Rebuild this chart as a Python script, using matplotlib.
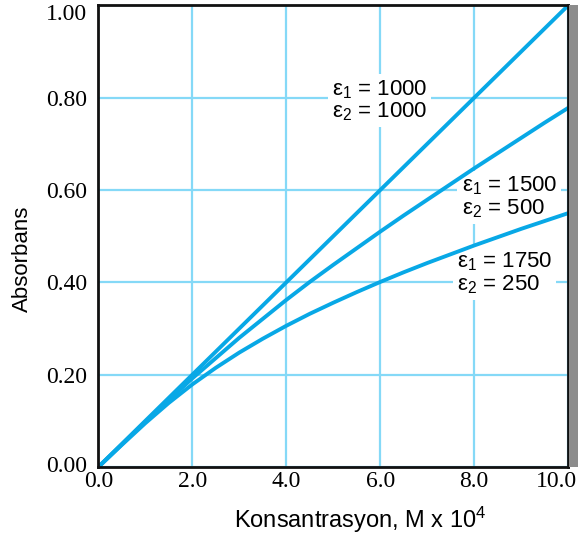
import numpy as np
import matplotlib
matplotlib.use("Agg")
import matplotlib.pyplot as plt
import matplotlib.transforms as mtransforms
from matplotlib.patches import Rectangle

# concentration (M x 10^4) and absorbance
conc = [0, 0.5, 1, 1.5, 2, 2.5, 3, 3.5, 4, 4.5, 5, 5.5, 6, 6.5, 7, 7.5, 8, 8.5, 9, 9.5, 10]
abs_1000_1000 = [0, 0.05, 0.10, 0.15, 0.20, 0.25, 0.30, 0.35, 0.40, 0.45, 0.50,
                 0.55, 0.60, 0.65, 0.70, 0.75, 0.80, 0.85, 0.90, 0.95, 1.00]
abs_1500_500 = [0, 0.049, 0.098, 0.145, 0.192, 0.236, 0.280, 0.321, 0.362, 0.401, 0.438,
                0.474, 0.510, 0.545, 0.579, 0.613, 0.647, 0.680, 0.713, 0.746, 0.778]
abs_1750_250 = [0, 0.048, 0.095, 0.139, 0.179, 0.215, 0.248, 0.278, 0.306, 0.332, 0.356,
                0.379, 0.401, 0.422, 0.442, 0.461, 0.480, 0.498, 0.516, 0.533, 0.550]

labels = ["ε$_1$ = 1000\nε$_2$ = 1000",
          "ε$_1$ = 1500\nε$_2$ = 500",
          "ε$_1$ = 1750\nε$_2$ = 250"]
label_pos = [(4.97, 0.794), (7.73, 0.584), (7.63, 0.420)]

xticks = [0, 2, 4, 6, 8, 10]
yticks = [0, 0.2, 0.4, 0.6, 0.8, 1.0]

plt.rcParams["mathtext.fontset"] = "custom"
plt.rcParams["mathtext.rm"] = "Liberation Sans"
plt.rcParams["mathtext.it"] = "Liberation Sans"

line_color = "#08a8e6"
grid_color = "#85d9f7"

fig = plt.figure(figsize=(5.78, 5.40), dpi=100)
ax = fig.add_axes([0.170, 0.135, 0.813, 0.855])

for y in [abs_1000_1000, abs_1500_500, abs_1750_250]:
    ax.plot(conc, y, color=line_color, lw=2.8, solid_capstyle="round",
            solid_joinstyle="round", zorder=3)

# white boxes hide the grid but the curves stay on top
for (x, y), t in zip(label_pos, labels):
    ax.text(x, y, t, ha="left", va="center", multialignment="left", fontsize=16,
            family="Liberation Sans", linespacing=1.0, zorder=2,
            bbox=dict(facecolor="white", edgecolor="none", pad=3.0))

ax.set_xlim(0, 10)
ax.set_ylim(0, 1.0)
ax.set_xticks(xticks)
ax.set_yticks(yticks)
ax.set_xticklabels(["%.1f" % v for v in xticks], family="Liberation Serif", fontsize=17)
ax.set_yticklabels(["%.2f" % v for v in yticks], family="Liberation Serif", fontsize=17)
ax.tick_params(axis="x", length=0, pad=3)
ax.tick_params(axis="y", length=0, pad=8)
ax.grid(True, color=grid_color, lw=1.6, zorder=0)
ax.set_axisbelow(True)

# nudge end labels inward as in the original
xl = ax.get_xticklabels()
xl[-1].set_horizontalalignment("right")
xl[-1].set_transform(xl[-1].get_transform() + mtransforms.ScaledTranslation(0.09, 0, fig.dpi_scale_trans))
yl = ax.get_yticklabels()
yl[-1].set_transform(yl[-1].get_transform() + mtransforms.ScaledTranslation(0, -0.07, fig.dpi_scale_trans))
yl[0].set_transform(yl[0].get_transform() + mtransforms.ScaledTranslation(0, 0.03, fig.dpi_scale_trans))

for s in ax.spines.values():
    s.set_linewidth(2)
    s.set_color("#111111")
    s.set_zorder(5)

ax.set_xlabel("Konsantrasyon, M x 10$^4$", family="Liberation Sans", fontsize=17, va="center")
ax.xaxis.set_label_coords(0.557, -0.115)
ax.set_ylabel("Absorbans", family="Liberation Sans", fontsize=16, va="center")
ax.yaxis.set_label_coords(-0.162, 0.452)

# gray shadow on right side of frame
fig.patches.append(Rectangle((0.985, 0.135), 0.015, 0.855, transform=fig.transFigure,
                             facecolor="#8c8c8c", edgecolor="none"))

fig.savefig("out.png", dpi=100)
